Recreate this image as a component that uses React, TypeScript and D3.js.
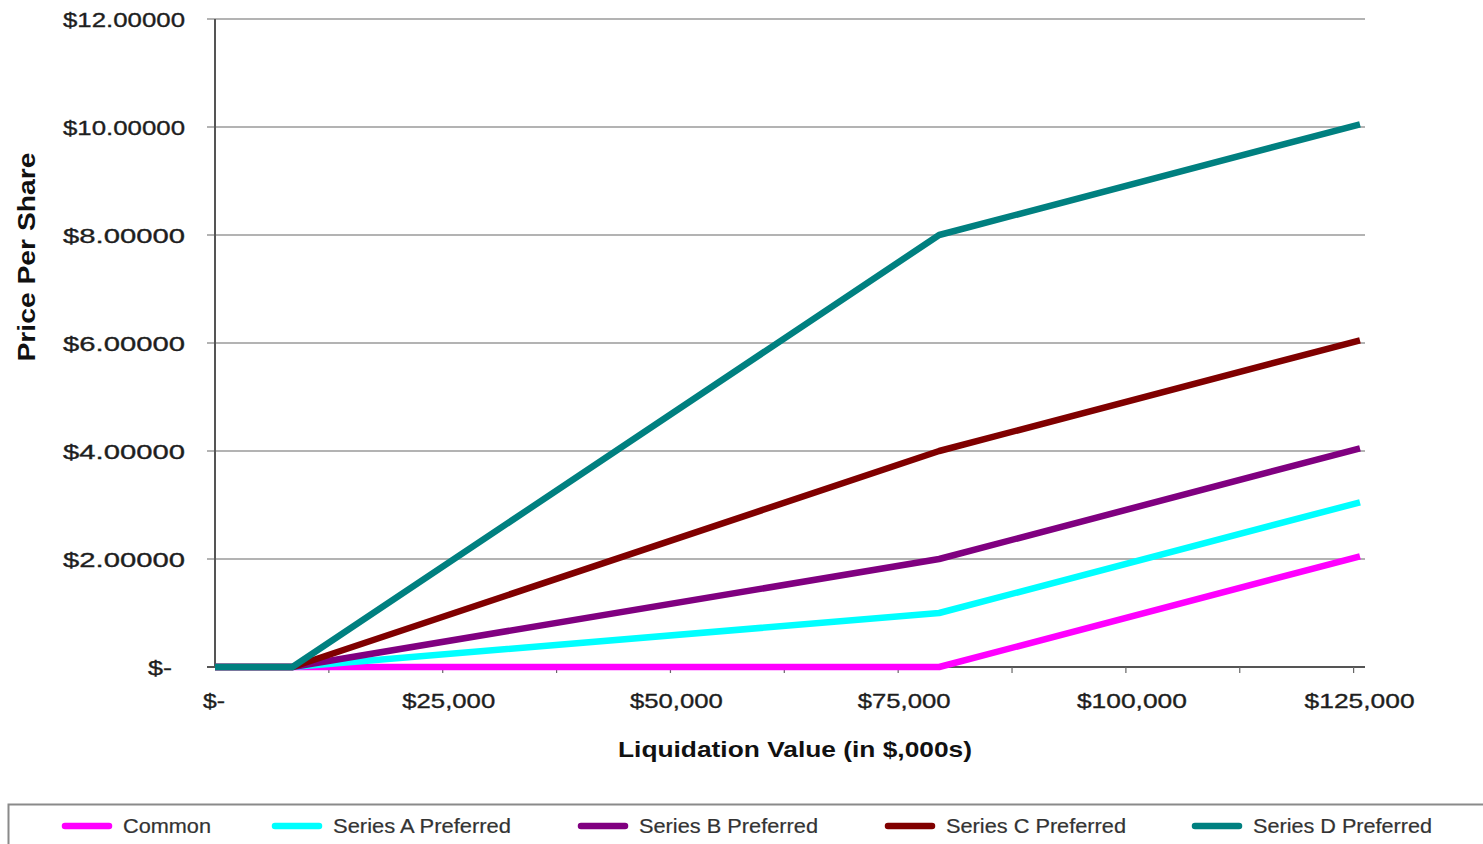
import React from "react";
import * as d3 from "d3";

// Liquidation value (in $,000s) at each breakpoint
const liquidationValues = [0, 8500, 79500, 125700];

// Price per share for each class at those breakpoints
const commonPrices = [0, 0, 0, 2.05];
const seriesAPrices = [0, 0, 1.0, 3.05];
const seriesBPrices = [0, 0, 2.0, 4.05];
const seriesCPrices = [0, 0, 4.0, 6.05];
const seriesDPrices = [0, 0, 8.0, 10.05];

const seriesNames = [
  "Common",
  "Series A Preferred",
  "Series B Preferred",
  "Series C Preferred",
  "Series D Preferred",
];
const seriesColors = ["#ff00ff", "#00ffff", "#800080", "#800000", "#008080"];
const seriesValues = [commonPrices, seriesAPrices, seriesBPrices, seriesCPrices, seriesDPrices];

const yTickValues = [0, 2, 4, 6, 8, 10, 12];
const xLabelValues = [0, 25000, 50000, 75000, 100000, 125000];
const xMinorTickValues = d3.range(12500, 125001, 12500);

const FONT = "'Liberation Sans', Arial, sans-serif";

const fmtY = (v: number) => (v === 0 ? "$-" : "$" + d3.format(".5f")(v));
const fmtX = (v: number) => (v === 0 ? "$-" : "$" + d3.format(",")(v));

export default function App() {
  const left = 215;
  const right = 1365;
  const top = 19;
  const bottom = 667;

  const x = d3.scaleLinear().domain([0, 126250]).range([left, right]);
  const y = d3.scaleLinear().domain([0, 12]).range([bottom, top]);

  const line = d3
    .line<number>()
    .x((_, i) => x(liquidationValues[i]))
    .y((d) => y(d));

  const legendSwatchX = [62, 272, 578, 885, 1192];
  const legendTextLen = [88, 178, 179, 180, 179];

  return (
    <svg
      width={1483}
      height={844}
      style={{ position: "absolute", left: 0, top: 0, background: "#fff" }}
      fontFamily={FONT}
    >
      <rect x={0} y={0} width={1483} height={844} fill="#fff" />

      {/* horizontal gridlines and y tick labels */}
      {yTickValues.map((v) => (
        <g key={"y" + v}>
          {v !== 0 && (
            <line x1={207} x2={right} y1={y(v)} y2={y(v)} stroke="#9a9a9a" strokeWidth={1.6} />
          )}
          <text
            x={v === 0 ? 172 : 185}
            y={y(v) + 7.5}
            textAnchor="end"
            fontSize={21}
            fill="#1e1e1e"
            stroke="#1e1e1e"
            strokeWidth={0.35}
            textLength={v === 0 ? 24 : 122}
            lengthAdjust="spacingAndGlyphs"
          >
            {fmtY(v)}
          </text>
        </g>
      ))}

      {/* axes */}
      <line x1={left} x2={left} y1={top} y2={bottom + 1} stroke="#555" strokeWidth={2} />
      <line x1={207} x2={right} y1={bottom} y2={bottom} stroke="#555" strokeWidth={2} />
      {xMinorTickValues.map((v) => (
        <line key={"t" + v} x1={x(v)} x2={x(v)} y1={bottom} y2={bottom + 6} stroke="#666" strokeWidth={1.2} />
      ))}
      {xLabelValues.map((v) => (
        <text
          key={"x" + v}
          x={v === 0 ? x(v) - 1 : x(v) + 6}
          y={708}
          textAnchor="middle"
          fontSize={21}
          fill="#1e1e1e"
          stroke="#1e1e1e"
          strokeWidth={0.35}
          textLength={v === 0 ? 22 : v >= 100000 ? 110 : 93}
          lengthAdjust="spacingAndGlyphs"
        >
          {fmtX(v)}
        </text>
      ))}

      {/* axis titles */}
      <text
        x={795}
        y={757}
        textAnchor="middle"
        fontSize={22}
        fontWeight="bold"
        fill="#111"
        textLength={354}
        lengthAdjust="spacingAndGlyphs"
      >
        Liquidation Value (in $,000s)
      </text>
      <text
        transform="translate(35,257) rotate(-90)"
        textAnchor="middle"
        fontSize={23}
        fontWeight="bold"
        fill="#111"
        textLength={209}
        lengthAdjust="spacingAndGlyphs"
      >
        Price Per Share
      </text>

      {/* series lines */}
      {seriesValues.map((vals, i) => (
        <path
          key={seriesNames[i]}
          d={line(vals) || ""}
          fill="none"
          stroke={seriesColors[i]}
          strokeWidth={6.5}
          strokeLinejoin="round"
          strokeLinecap="butt"
        />
      ))}

      {/* legend */}
      <rect x={8.5} y={804.5} width={1490} height={60} fill="#fff" stroke="#8a8a8a" strokeWidth={2} />
      {seriesNames.map((name, i) => (
        <g key={"lg" + i}>
          <line
            x1={legendSwatchX[i] + 3}
            x2={legendSwatchX[i] + 47}
            y1={826}
            y2={826}
            stroke={seriesColors[i]}
            strokeWidth={6.5}
            strokeLinecap="round"
          />
          <text
            x={legendSwatchX[i] + 61}
            y={833}
            fontSize={20}
            fill="#333"
            stroke="#333"
            strokeWidth={0.2}
            textLength={legendTextLen[i]}
            lengthAdjust="spacingAndGlyphs"
          >
            {name}
          </text>
        </g>
      ))}
    </svg>
  );
}
